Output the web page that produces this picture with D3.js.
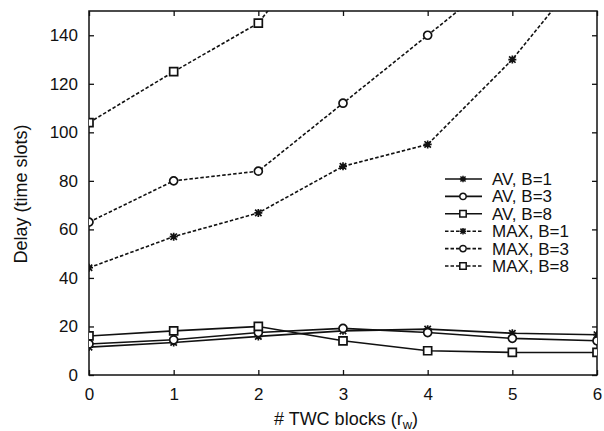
<!DOCTYPE html>
<html>
<head>
<meta charset="utf-8">
<script src="https://cdn.jsdelivr.net/npm/d3@7"></script>
<style>
	body { margin: 0; background: #fff; }
	text { font-family: "Liberation Sans", Arial, sans-serif; fill: #111; }
</style>
</head>
<body>
<div id="chart"></div>
<script>
// Data
const blocks = [0, 1, 2, 3, 4, 5, 6];
const avB1 = [11.5, 13.4, 15.9, 18.2, 18.9, 17.2, 16.6];
const avB3 = [12.8, 14.5, 17.5, 19.2, 17.5, 15.1, 14.1];
const avB8 = [16.1, 18.2, 20, 14.1, 10, 9.3, 9.3];
const maxB1 = [44.2, 57, 66.8, 86, 95, 130, 173];
const maxB3 = [63, 80, 84, 112, 140, 168, 200];
const maxB8 = [104, 125, 145, 190, 240, 290, 340];
const yTicks = [0, 20, 40, 60, 80, 100, 120, 140];
const seriesNames = ['AV, B=1', 'AV, B=3', 'AV, B=8', 'MAX, B=1', 'MAX, B=3', 'MAX, B=8'];

generateChart();

function generateChart() {
	const width = 604;
	const height = 431;
	const margin = {top: 11, right: 7, bottom: 56, left: 89};
	const chartWidth = width - margin.left - margin.right;
	const chartHeight = height - margin.top - margin.bottom;

	const series = [
		{name: seriesNames[0], values: avB1, marker: 'star', dashed: false},
		{name: seriesNames[1], values: avB3, marker: 'circle', dashed: false},
		{name: seriesNames[2], values: avB8, marker: 'square', dashed: false},
		{name: seriesNames[3], values: maxB1, marker: 'star', dashed: true},
		{name: seriesNames[4], values: maxB3, marker: 'circle', dashed: true},
		{name: seriesNames[5], values: maxB8, marker: 'square', dashed: true}
	];

	const xScale = d3.scaleLinear().domain([0, 6]).range([0, chartWidth]);
	const yScale = d3.scaleLinear().domain([0, 150]).range([chartHeight, 0]);

	const svg = d3.select('#chart')
		.append('svg')
		.attr('width', width)
		.attr('height', height);

	svg.append('defs').append('clipPath')
		.attr('id', 'plotClip')
		.append('rect')
		.attr('width', chartWidth)
		.attr('height', chartHeight);

	const canvas = svg.append('g')
		.attr('transform', `translate(${margin.left}, ${margin.top})`);

	// axes, gnuplot style: ticks point inward and are mirrored
	const xAxis = canvas.append('g')
		.attr('transform', `translate(0, ${chartHeight})`)
		.call(d3.axisBottom(xScale).tickValues(blocks).tickSize(-5).tickPadding(13).tickFormat(d3.format('d')));
	const xAxisTop = canvas.append('g')
		.call(d3.axisTop(xScale).tickValues(blocks).tickSize(-5).tickFormat(''));
	const yAxis = canvas.append('g')
		.call(d3.axisLeft(yScale).tickValues(yTicks).tickSize(-5).tickPadding(11));
	const yAxisRight = canvas.append('g')
		.attr('transform', `translate(${chartWidth}, 0)`)
		.call(d3.axisRight(yScale).tickValues(yTicks).tickSize(-5).tickFormat(''));

	[xAxis, xAxisTop, yAxis, yAxisRight].forEach((axis) => {
		axis.select('.domain').remove();
		axis.selectAll('line').attr('stroke', '#111').attr('stroke-width', 1.3);
		axis.selectAll('text').attr('font-size', 17).attr('font-family', '"Liberation Sans", Arial, sans-serif').attr('fill', '#111');
	});

	canvas.append('rect')
		.attr('width', chartWidth)
		.attr('height', chartHeight)
		.attr('fill', 'none')
		.attr('stroke', '#111')
		.attr('stroke-width', 1.5);

	// axis labels
	const xLabel = svg.append('text')
		.attr('x', 346)
		.attr('y', 425)
		.attr('text-anchor', 'middle')
		.attr('font-size', 18);
	xLabel.append('tspan').text('# TWC blocks (r');
	xLabel.append('tspan').attr('font-size', 13).attr('dy', 4).text('w');
	xLabel.append('tspan').attr('dy', -4).text(')');

	svg.append('text')
		.attr('transform', 'translate(27, 194) rotate(-90)')
		.attr('text-anchor', 'middle')
		.attr('font-size', 18)
		.text('Delay (time slots)');

	const line = d3.line()
		.x((d, i) => xScale(blocks[i]))
		.y((d) => yScale(d));

	const plot = canvas.append('g').attr('clip-path', 'url(#plotClip)');

	series.forEach((s) => {
		plot.append('path')
			.datum(s.values)
			.attr('d', line)
			.attr('fill', 'none')
			.attr('stroke', '#111')
			.attr('stroke-width', 1.6)
			.attr('stroke-dasharray', s.dashed ? '3.5,2' : null);

		plot.selectAll(null)
			.data(s.values.map((v, i) => [blocks[i], v]))
			.enter()
			.append('path')
				.attr('transform', (d) => `translate(${xScale(d[0])}, ${yScale(d[1])})`)
				.attr('d', markerPath(s.marker))
				.attr('fill', s.marker === 'star' ? 'none' : '#fff')
				.attr('stroke', '#111')
				.attr('stroke-width', 1.7);
	});

	// legend
	const legend = svg.append('g');
	const rowY = (i) => 179 + i * 17.4;
	series.forEach((s, i) => {
		legend.append('line')
			.attr('x1', 445).attr('x2', 482)
			.attr('y1', rowY(i)).attr('y2', rowY(i))
			.attr('stroke', '#111')
			.attr('stroke-width', 1.6)
			.attr('stroke-dasharray', s.dashed ? '3.5,2' : null);
		legend.append('path')
			.attr('transform', `translate(463, ${rowY(i)})`)
			.attr('d', markerPath(s.marker, 0.8))
			.attr('fill', s.marker === 'star' ? 'none' : '#fff')
			.attr('stroke', '#111')
			.attr('stroke-width', 1.5);
		legend.append('text')
			.attr('x', 492)
			.attr('y', rowY(i) + 6)
			.attr('font-size', 17)
			.text(s.name);
	});
}

// Marker shapes like gnuplot point types
function markerPath(type, scale) {
	const r = 4 * (scale || 1);
	if (type === 'square') {
		return `M${-r},${-r}H${r}V${r}H${-r}Z`;
	}
	if (type === 'circle') {
		return `M${r},0A${r},${r} 0 1,1 ${-r},0A${r},${r} 0 1,1 ${r},0Z`;
	}
	// star: x plus +
	const d = r * 0.8;
	return `M${-d},${-d}L${d},${d}M${-d},${d}L${d},${-d}M0,${-r}V${r}M${-r},0H${r}`;
}
</script>
</body>
</html>
